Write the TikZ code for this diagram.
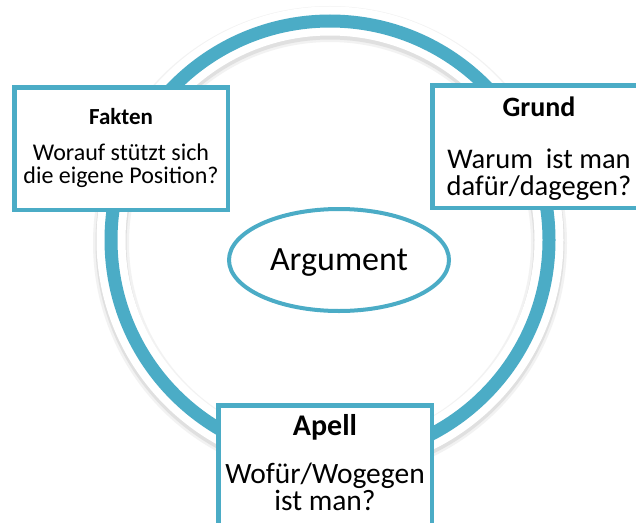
\documentclass[tikz,border=0pt]{standalone}
\usepackage{fontspec}
\setmainfont{Carlito}
\usetikzlibrary{shapes.geometric}
\definecolor{aqua}{HTML}{4BACC6}
\begin{document}
\begin{tikzpicture}[x=1pt,y=-1pt,
  infobox/.style={draw=aqua,line width=4.5pt,fill=white,minimum width=213.5pt,minimum height=122.5pt,inner sep=0pt},
  txt/.style={anchor=base,inner sep=0pt,text=black}]
\useasboundingbox (0,0) rectangle (636,522);
\fill[white] (0,0) rectangle (636,522);
\coordinate (c) at (330,240);
% ring with soft shadow
\draw[black!5,line width=36pt] ([shift={(0,3)}]c) circle[radius=219pt];
\draw[black!12,line width=31pt] ([shift={(0,3)}]c) circle[radius=219pt];
\draw[white,line width=29pt] (c) circle[radius=219pt];
\draw[aqua,line width=13pt] (c) circle[radius=219pt];
% boxes
\node[infobox] (fakten) at (121,148.5) {};
\node[infobox] (grund) at (539,146.5) {};
\node[infobox] (apell) at (325,466.5) {};
\node[ellipse,draw=aqua,line width=4pt,fill=white,minimum width=220pt,minimum height=102pt,inner sep=0pt] (arg) at (339,260) {};
% texts
\node[txt,font=\fontsize{23}{23}\selectfont\bfseries] (t1) at (121,124) {Fakten};
\node[txt,font=\fontsize{24}{24}\selectfont] (t1a) at (121,160.7) {Worauf stützt sich};
\node[txt,font=\fontsize{24}{24}\selectfont] (t1b) at (121,183) {die eigene Position?};
\node[txt,font=\fontsize{28}{28}\selectfont\bfseries] (t2) at (539,116.7) {Grund};
\node[txt,font=\fontsize{28.5}{28.5}\selectfont] (t2a) at (539,168.5) {Warum\ \ ist man};
\node[txt,font=\fontsize{28.5}{28.5}\selectfont] (t2b) at (539,195) {dafür/dagegen?};
\node[txt,font=\fontsize{30}{30}\selectfont\bfseries] (t3) at (325,435) {Apell};
\node[txt,font=\fontsize{29.5}{29.5}\selectfont] (t3a) at (325,483) {Wofür/Wogegen};
\node[txt,font=\fontsize{29.5}{29.5}\selectfont] (t3b) at (325,510.7) {ist man?};
\node[txt,font=\fontsize{34}{34}\selectfont] (targ) at (339,270) {Argument};
\end{tikzpicture}
\end{document}
